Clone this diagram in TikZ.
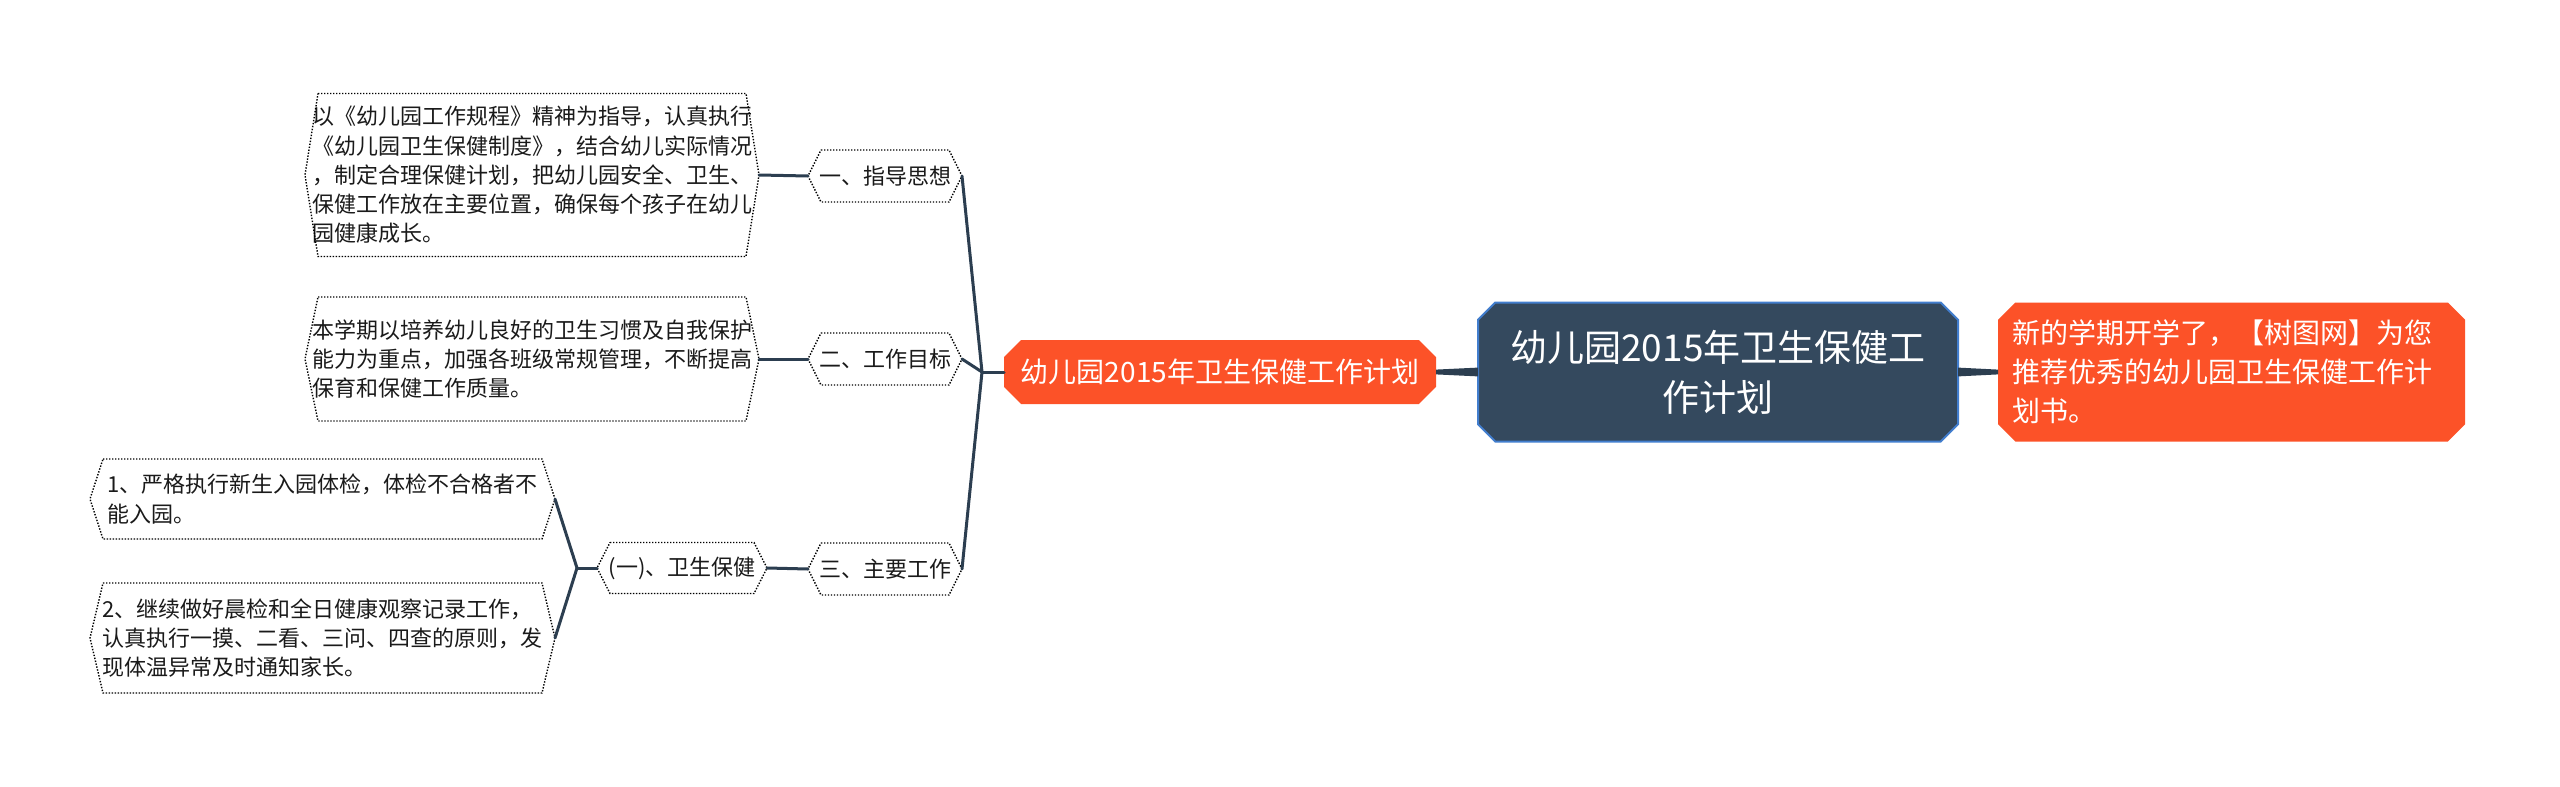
\documentclass[tikz,border=0pt]{standalone}
\usepackage{fontspec}
\setmainfont{Noto Sans CJK SC}
\usetikzlibrary{calc,shapes.misc}
\definecolor{rootfill}{RGB}{52,73,94}
\definecolor{rootedge}{RGB}{66,126,206}
\definecolor{hotred}{RGB}{252,82,40}
\definecolor{linkc}{RGB}{44,62,80}
\definecolor{inkc}{RGB}{26,26,26}

\begin{document}
\begin{tikzpicture}[x=0.5pt,y=-0.5pt,
  every node/.style={inner sep=0pt,outer sep=0pt},
  rootbox/.style={chamfered rectangle,chamfered rectangle xsep=5pt,fill=rootfill,draw=rootedge,line width=1pt,text=white,align=center,font=\fontsize{18.5}{25}\selectfont},
  hotbox/.style={chamfered rectangle,chamfered rectangle xsep=5pt,fill=hotred,text=white,font=\fontsize{14}{19.5}\selectfont},
  tagbox/.style={align=center,text=inkc,font=\fontsize{11}{14.6}\selectfont},
  textbox/.style={align=left,text=inkc,font=\fontsize{11}{14.6}\selectfont},
  hexline/.style={draw=black,line width=0.7pt,dash pattern=on 0.7pt off 0.8pt},
  link/.style={draw=linkc,line width=1.5pt,line cap=round}]
\fill[white] (0,0) rectangle (2560,787);
\node[rootbox,minimum width=240pt,minimum height=69.5pt] (root) at (1718,372) {幼儿园2015年卫生保健工\\作计划};
\node[hotbox,minimum width=233.5pt,minimum height=69.5pt,text width=219.5pt,inner xsep=2pt,align=left] (note) at (2231.5,372) {新的学期开学了，【树图网】为您\\推荐优秀的幼儿园卫生保健工作计\\划书。};
\node[hotbox,minimum width=216pt,minimum height=32pt,align=center] (plan) at (1220,372) {幼儿园2015年卫生保健工作计划};
\node[tagbox,minimum width=77pt,minimum height=26pt] (g1) at (885,176) {一、指导思想};
\node[tagbox,minimum width=77pt,minimum height=26pt] (g2) at (885,359) {二、工作目标};
\node[tagbox,minimum width=77pt,minimum height=26pt] (g3) at (885,569) {三、主要工作};
\node[tagbox,minimum width=85pt,minimum height=25.5pt] (s1) at (682,568) {(一)、卫生保健};
\node[textbox,minimum width=227pt,minimum height=81.5pt] (d1) at (532,175) {以《幼儿园工作规程》精神为指导，认真执行\\《幼儿园卫生保健制度》，结合幼儿实际情况\\，制定合理保健计划，把幼儿园安全、卫生、\\保健工作放在主要位置，确保每个孩子在幼儿\\园健康成长。};
\node[textbox,minimum width=227pt,minimum height=62pt] (d2) at (532,359) {本学期以培养幼儿良好的卫生习惯及自我保护\\能力为重点，加强各班级常规管理，不断提高\\保育和保健工作质量。};
\node[textbox,minimum width=232.5pt,minimum height=40pt] (d3) at (322.5,499) {1、严格执行新生入园体检，体检不合格者不\\能入园。};
\node[textbox,minimum width=232.5pt,minimum height=55pt] (d4) at (322.5,638) {2、继续做好晨检和全日健康观察记录工作，\\认真执行一摸、二看、三问、四查的原则，发\\现体温异常及时通知家长。};
\foreach \n in {g1,g2,g3,s1,d1,d2,d3,d4}
  \draw[hexline] ([xshift=6.5pt]\n.north west) -- ([xshift=-6.5pt]\n.north east) -- (\n.east) -- ([xshift=-6.5pt]\n.south east) -- ([xshift=6.5pt]\n.south west) -- (\n.west) -- cycle;
\coordinate (b1) at (982,372);
\coordinate (b2) at (577,568);
\fill[linkc] ([yshift=2.2pt]root.west) -- ([yshift=1.2pt]plan.east) -- ([yshift=-1.2pt]plan.east) -- ([yshift=-2.2pt]root.west) -- cycle;
\fill[linkc] ([yshift=2.2pt]root.east) -- ([yshift=1.2pt]note.west) -- ([yshift=-1.2pt]note.west) -- ([yshift=-2.2pt]root.east) -- cycle;
\draw[link] (plan.west)--(b1); \draw[link] (b1)--(g1.east); \draw[link] (b1)--(g2.east); \draw[link] (b1)--(g3.east);
\draw[link] (g1.west)--(d1.east); \draw[link] (g2.west)--(d2.east); \draw[link] (g3.west)--(s1.east);
\draw[link] (s1.west)--(b2); \draw[link] (b2)--(d3.east); \draw[link] (b2)--(d4.east);
\end{tikzpicture}
\end{document}
